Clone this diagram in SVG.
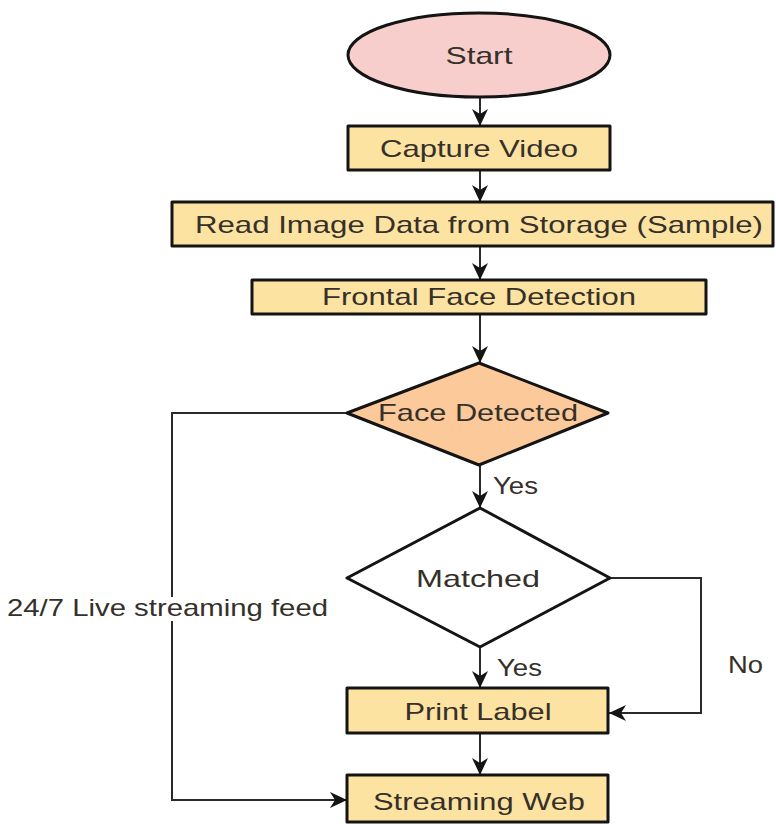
<svg xmlns="http://www.w3.org/2000/svg" width="776" height="824" viewBox="0 0 776 824">
<style>
.shape{stroke:#141414;stroke-width:3;stroke-linejoin:round}
.proc{fill:#fde3a1}
.lbl{font-family:"Liberation Sans",Arial,sans-serif;font-size:24px;fill:#35302a}
.c{text-anchor:middle}
.edge{fill:none;stroke:#2a2a2a;stroke-width:2}
</style>
<defs>
<marker id="arr" markerUnits="userSpaceOnUse" markerWidth="18" markerHeight="16" refX="17" refY="8" orient="auto">
<path d="M0,0 L17,8 L0,16 L5,8 Z" fill="#141414"/>
</marker>
</defs>
<rect width="776" height="824" fill="#ffffff"/>
<g id="connectors">
<line class="edge" x1="480" y1="97" x2="480" y2="126" marker-end="url(#arr)"/>
<line class="edge" x1="480" y1="170" x2="480" y2="202" marker-end="url(#arr)"/>
<line class="edge" x1="480" y1="246" x2="480" y2="280" marker-end="url(#arr)"/>
<line class="edge" x1="480" y1="314" x2="480" y2="363" marker-end="url(#arr)"/>
<line class="edge" x1="480" y1="465" x2="480" y2="508" marker-end="url(#arr)"/>
<line class="edge" x1="480" y1="647" x2="480" y2="688" marker-end="url(#arr)"/>
<line class="edge" x1="480" y1="733" x2="480" y2="775" marker-end="url(#arr)"/>
<polyline class="edge" points="347,413 172,413 172,800 347,800" marker-end="url(#arr)"/>
<polyline class="edge" points="610,578 701,578 701,713 609,713" marker-end="url(#arr)"/>
<rect x="0" y="597" width="340" height="24" fill="#ffffff"/>
<text class="lbl" x="7" y="616" textLength="321" lengthAdjust="spacingAndGlyphs">24/7 Live streaming feed</text>
<text class="lbl" x="493" y="494" textLength="45" lengthAdjust="spacingAndGlyphs">Yes</text>
<text class="lbl" x="497" y="676" textLength="45" lengthAdjust="spacingAndGlyphs">Yes</text>
<text class="lbl" x="728" y="673" textLength="35" lengthAdjust="spacingAndGlyphs">No</text>
</g>
<g id="start">
<ellipse class="shape" cx="479" cy="55" rx="131" ry="42" fill="#f8cecc"/>
<text class="lbl c" x="479" y="64" textLength="67" lengthAdjust="spacingAndGlyphs">Start</text>
</g>
<g id="capture">
<rect class="shape proc" x="348" y="126" width="262" height="44"/>
<text class="lbl c" x="479" y="157" textLength="198" lengthAdjust="spacingAndGlyphs">Capture Video</text>
</g>
<g id="read">
<rect class="shape proc" x="172" y="202" width="601" height="44"/>
<text class="lbl c" x="479" y="233" textLength="568" lengthAdjust="spacingAndGlyphs">Read Image Data from Storage (Sample)</text>
</g>
<g id="frontal">
<rect class="shape proc" x="252" y="280" width="454" height="34"/>
<text class="lbl c" x="479" y="305" textLength="314" lengthAdjust="spacingAndGlyphs">Frontal Face Detection</text>
</g>
<g id="face">
<polygon class="shape" points="479,363 608,413 479,465 347,413" fill="#fbc99a"/>
<text class="lbl c" x="478" y="421" textLength="200" lengthAdjust="spacingAndGlyphs">Face Detected</text>
</g>
<g id="matched">
<polygon class="shape" points="480,508 610,578 480,647 347,578" fill="#ffffff"/>
<text class="lbl c" x="478" y="587" textLength="124" lengthAdjust="spacingAndGlyphs">Matched</text>
</g>
<g id="print">
<rect class="shape proc" x="347" y="688" width="261" height="45"/>
<text class="lbl c" x="478" y="720" textLength="147" lengthAdjust="spacingAndGlyphs">Print Label</text>
</g>
<g id="web">
<rect class="shape proc" x="347" y="775" width="261" height="47"/>
<text class="lbl c" x="479" y="810" textLength="212" lengthAdjust="spacingAndGlyphs">Streaming Web</text>
</g>
</svg>
